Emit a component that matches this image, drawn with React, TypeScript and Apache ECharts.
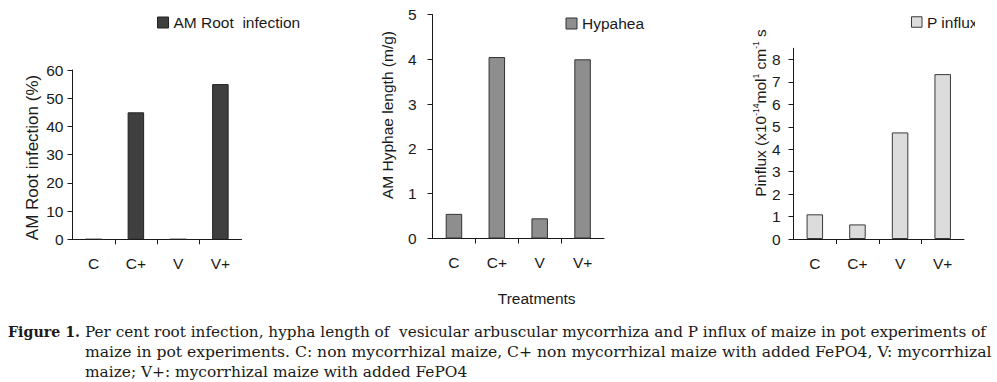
import React, { useEffect, useRef } from "react";
import * as echarts from "echarts";

const categories = ["C", "C+", "V", "V+"];
const rootInfection = [0, 45, 0, 55];
const hyphaeLength = [0.55, 4.05, 0.45, 4.0];
const pInflux = [1.1, 0.65, 4.75, 7.35];
const pInfluxTicks = [0, 1, 2, 3, 4, 5, 6, 7, 8];
const boundaryTicks = [1, 2, 3];

const seriesNames = ["AM Root  infection", "Hypahea", "P influx"];
const captionLines = [
  "Per cent root infection, hypha length of  vesicular arbuscular mycorrhiza and P influx of maize in pot experiments of",
  "maize in pot experiments. C: non mycorrhizal maize, C+ non mycorrhizal maize with added FePO4, V: mycorrhizal",
  "maize; V+: mycorrhizal maize with added FePO4",
];

const SANS = "'Liberation Sans', Arial, sans-serif";
const SERIF = "'DejaVu Serif', serif";
const INK = "#1a1a1a";

const grids = [
  { left: 72.5, top: 70, width: 169, height: 169.3 },
  { left: 432.5, top: 14.5, width: 171.5, height: 224 },
  { left: 793.5, top: 48.3, width: 170.5, height: 190.7 },
];
const fills = ["#3f3f3f", "#8e8e8e", "#dcdcdc"];
const strokes = ["#222222", "#333333", "#3a3a3a"];
const yMax = [60, 5, 8.5];
const yInterval = [10, 1, 1];
const yLabelMargin = [9, 16, 13];

export default function App() {
  const ref = useRef<HTMLDivElement>(null);
  useEffect(() => {
    if (!ref.current) return;
    const chart = echarts.init(ref.current, null, { renderer: "svg" });
    const data = [rootInfection, hyphaeLength, pInflux];

    const xAxes: any[] = [];
    const yAxes: any[] = [];
    grids.forEach((_, i) => {
      xAxes.push({
        type: "category",
        gridIndex: i,
        data: categories,
        axisLine: { lineStyle: { color: INK, width: 1 } },
        axisTick: { show: false },
        axisLabel: { color: INK, fontFamily: SANS, fontSize: 15.5, margin: 16 },
      });
      xAxes.push({
        type: "value",
        gridIndex: i,
        position: "bottom",
        min: 0,
        max: 4,
        interval: 1,
        axisLine: { show: false },
        axisLabel: { show: false },
        splitLine: { show: false },
        axisTick: { show: true, length: 5, customValues: boundaryTicks, lineStyle: { color: INK } },
      });
      const y: any = {
        type: "value",
        gridIndex: i,
        min: 0,
        max: yMax[i],
        interval: yInterval[i],
        splitLine: { show: false },
        axisLine: { show: true, lineStyle: { color: INK, width: 1 } },
        axisTick: { show: true, length: 5, lineStyle: { color: INK } },
        axisLabel: { color: INK, fontFamily: SANS, fontSize: 15.5, margin: yLabelMargin[i] },
      };
      if (i === 2) {
        y.axisTick.customValues = pInfluxTicks;
        y.axisLabel.customValues = pInfluxTicks;
      }
      yAxes.push(y);
    });

    const series = data.map((d, i) => ({
      name: seriesNames[i],
      type: "bar",
      xAxisIndex: i * 2,
      yAxisIndex: i,
      data: d,
      barWidth: 16.5,
      itemStyle: { color: fills[i], borderColor: strokes[i], borderWidth: 1 },
    }));

    const legendPos = [
      { left: 157, top: 13.5, w: 11 },
      { left: 565.5, top: 14.5, w: 11 },
      { left: 911, top: 13, w: 10.5 },
    ];
    const legends = legendPos.map((p, i) => ({
      data: [seriesNames[i]],
      left: p.left,
      top: p.top,
      padding: 0,
      icon: "rect",
      itemWidth: p.w,
      itemHeight: p.w,
      itemStyle: { color: fills[i], borderColor: strokes[i], borderWidth: 1 },
      textStyle: { color: INK, fontFamily: SANS, fontSize: 15.5, lineHeight: 18 },
      selectedMode: false,
    }));

    const graphic: any[] = [
      {
        type: "text",
        x: 32,
        y: 157.5,
        rotation: Math.PI / 2,
        style: {
          text: "AM Root infection (%)",
          fill: INK,
          font: `17px ${SANS}`,
          align: "center",
          verticalAlign: "middle",
        },
      },
      {
        type: "text",
        x: 387.3,
        y: 115,
        rotation: Math.PI / 2,
        style: {
          text: "AM Hyphae length (m/g)",
          fill: INK,
          font: `15.5px ${SANS}`,
          align: "center",
          verticalAlign: "middle",
        },
      },
      {
        type: "text",
        x: 760,
        y: 113,
        rotation: Math.PI / 2,
        style: {
          text: "Pinflux (x10{s|-14}mol{s|1} cm{s|-1} s",
          fill: INK,
          fontFamily: SANS,
          fontSize: 15.5,
          lineHeight: 18,
          align: "center",
          verticalAlign: "middle",
          rich: {
            s: { fontSize: 8.5, fontFamily: SANS, fill: INK, verticalAlign: "top", lineHeight: 18 },
          },
        },
      },
      {
        type: "text",
        x: 536.7,
        y: 298,
        style: {
          text: "Treatments",
          fill: INK,
          font: `15.5px ${SANS}`,
          align: "center",
          verticalAlign: "middle",
        },
      },
      {
        type: "rect",
        z: 100,
        shape: { x: 975, y: 8, width: 22, height: 28 },
        style: { fill: "#ffffff" },
        silent: true,
      },
      {
        type: "text",
        x: 8,
        y: 331.5,
        style: {
          text: "Figure 1.",
          fill: INK,
          font: `bold 14.2px ${SERIF}`,
          align: "left",
          verticalAlign: "middle",
        },
      },
    ];
    const captionSizes = [15.25, 15.6, 15.4];
    captionLines.forEach((t, k) => {
      graphic.push({
        type: "text",
        x: 85,
        y: 331.5 + k * 20,
        style: {
          text: t,
          fill: INK,
          font: `${captionSizes[k]}px ${SERIF}`,
          align: "left",
          verticalAlign: "middle",
        },
      });
    });

    chart.setOption({
      animation: false,
      backgroundColor: "#ffffff",
      grid: grids.map((g) => ({ ...g, containLabel: false, outerBoundsMode: "none" })),
      legend: legends,
      xAxis: xAxes,
      yAxis: yAxes,
      series,
      graphic,
    });
    return () => chart.dispose();
  }, []);

  return (
    <div
      ref={ref}
      style={{ position: "absolute", left: 0, top: 0, width: 997, height: 382 }}
    />
  );
}
